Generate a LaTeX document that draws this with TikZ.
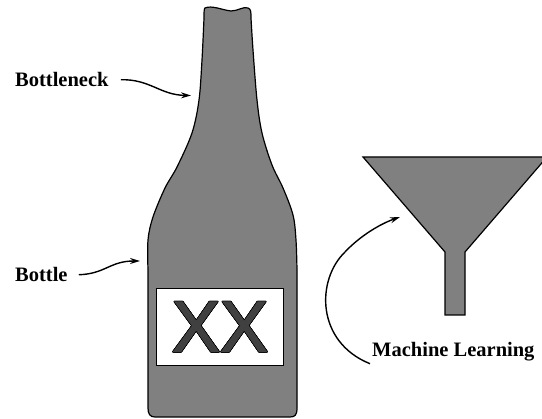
\documentclass[tikz,border=0pt]{standalone}
\usepackage{fontspec}
\setmainfont{Liberation Serif}
\newfontfamily\xxfont[FakeBold=1.2]{Liberation Sans}
\usepackage{contour}
\usetikzlibrary{positioning,arrows.meta}
\definecolor{glassgray}{RGB}{128,128,128}
\definecolor{markgray}{RGB}{64,64,64}

\begin{document}
\begin{tikzpicture}[x=1pt,y=-1pt,
        lbl/.style={font=\fontsize{20.5}{24}\selectfont\bfseries, inner sep=2pt},
        pointer/.style={line width=1.4pt, -{Stealth[length=10pt,width=6pt]}},
        outline/.style={fill=glassgray, draw=black, line width=1.2pt, line join=round}]
                \useasboundingbox (0,0) rectangle (542,419);
                % bottle
                \filldraw[outline] (205,8) .. controls (212,5) and (222,10) .. (231,11)
                    .. controls (238,11) and (244,6) .. (248,8)
                    .. controls (251,9) and (251,12) .. (251,18)
                    -- plot[smooth, tension=0.55] coordinates {(251,18) (253,50) (257,100) (262,133) (272,165) (283,188) (293,215) (296,240) (297,270)}
                    -- (297,408) .. controls (297,415) and (295,417) .. (290,417)
                    -- (155,417) .. controls (150,417) and (148,414) .. (148,408)
                    -- plot[smooth, tension=0.55] coordinates {(148,270) (148,240) (153,217) (165,188) (177,167) (192,133) (199,100) (202,60) (204,18)}
                    .. controls (204,12) and (204,9) .. (205,8) -- cycle;
                \draw[fill=white, draw=black, line width=1.2pt] (156.7,288.3) rectangle (283.3,365.7);
                \node (tag) at (220,327) {\contourlength{0.6pt}\contour{black}{\xxfont\fontsize{72}{72}\selectfont\textcolor{markgray}{XX}}};
                % funnel
                \filldraw[outline, line join=miter] (363,157) -- (547,157) -- (465,252) -- (465,315) -- (445,315) -- (445,252) -- cycle;
                % labels
                \node[lbl, anchor=base west] (bneck) at (13,87) {Bottleneck};
                \node[lbl, anchor=base west] (body) at (13,282) {Bottle};
                \node[lbl, anchor=base west] (ml) at (370,357) {Machine Learning};
                \coordinate (neck) at (191,95.5);
                \coordinate (side) at (140,261);
                \coordinate (cone) at (400,217);
                \draw[pointer, shorten <=10pt] (bneck.east) .. controls (150,79) and (160,95) .. (neck);
                \draw[pointer, shorten <=9pt] (body.east) .. controls (105,274) and (110,261) .. (side);
                \draw[pointer] (ml.south west) .. controls (316,342) and (316,280) .. (345,252)
                    .. controls (360,236) and (380,224) .. (cone);
            \end{tikzpicture}
\end{document}
